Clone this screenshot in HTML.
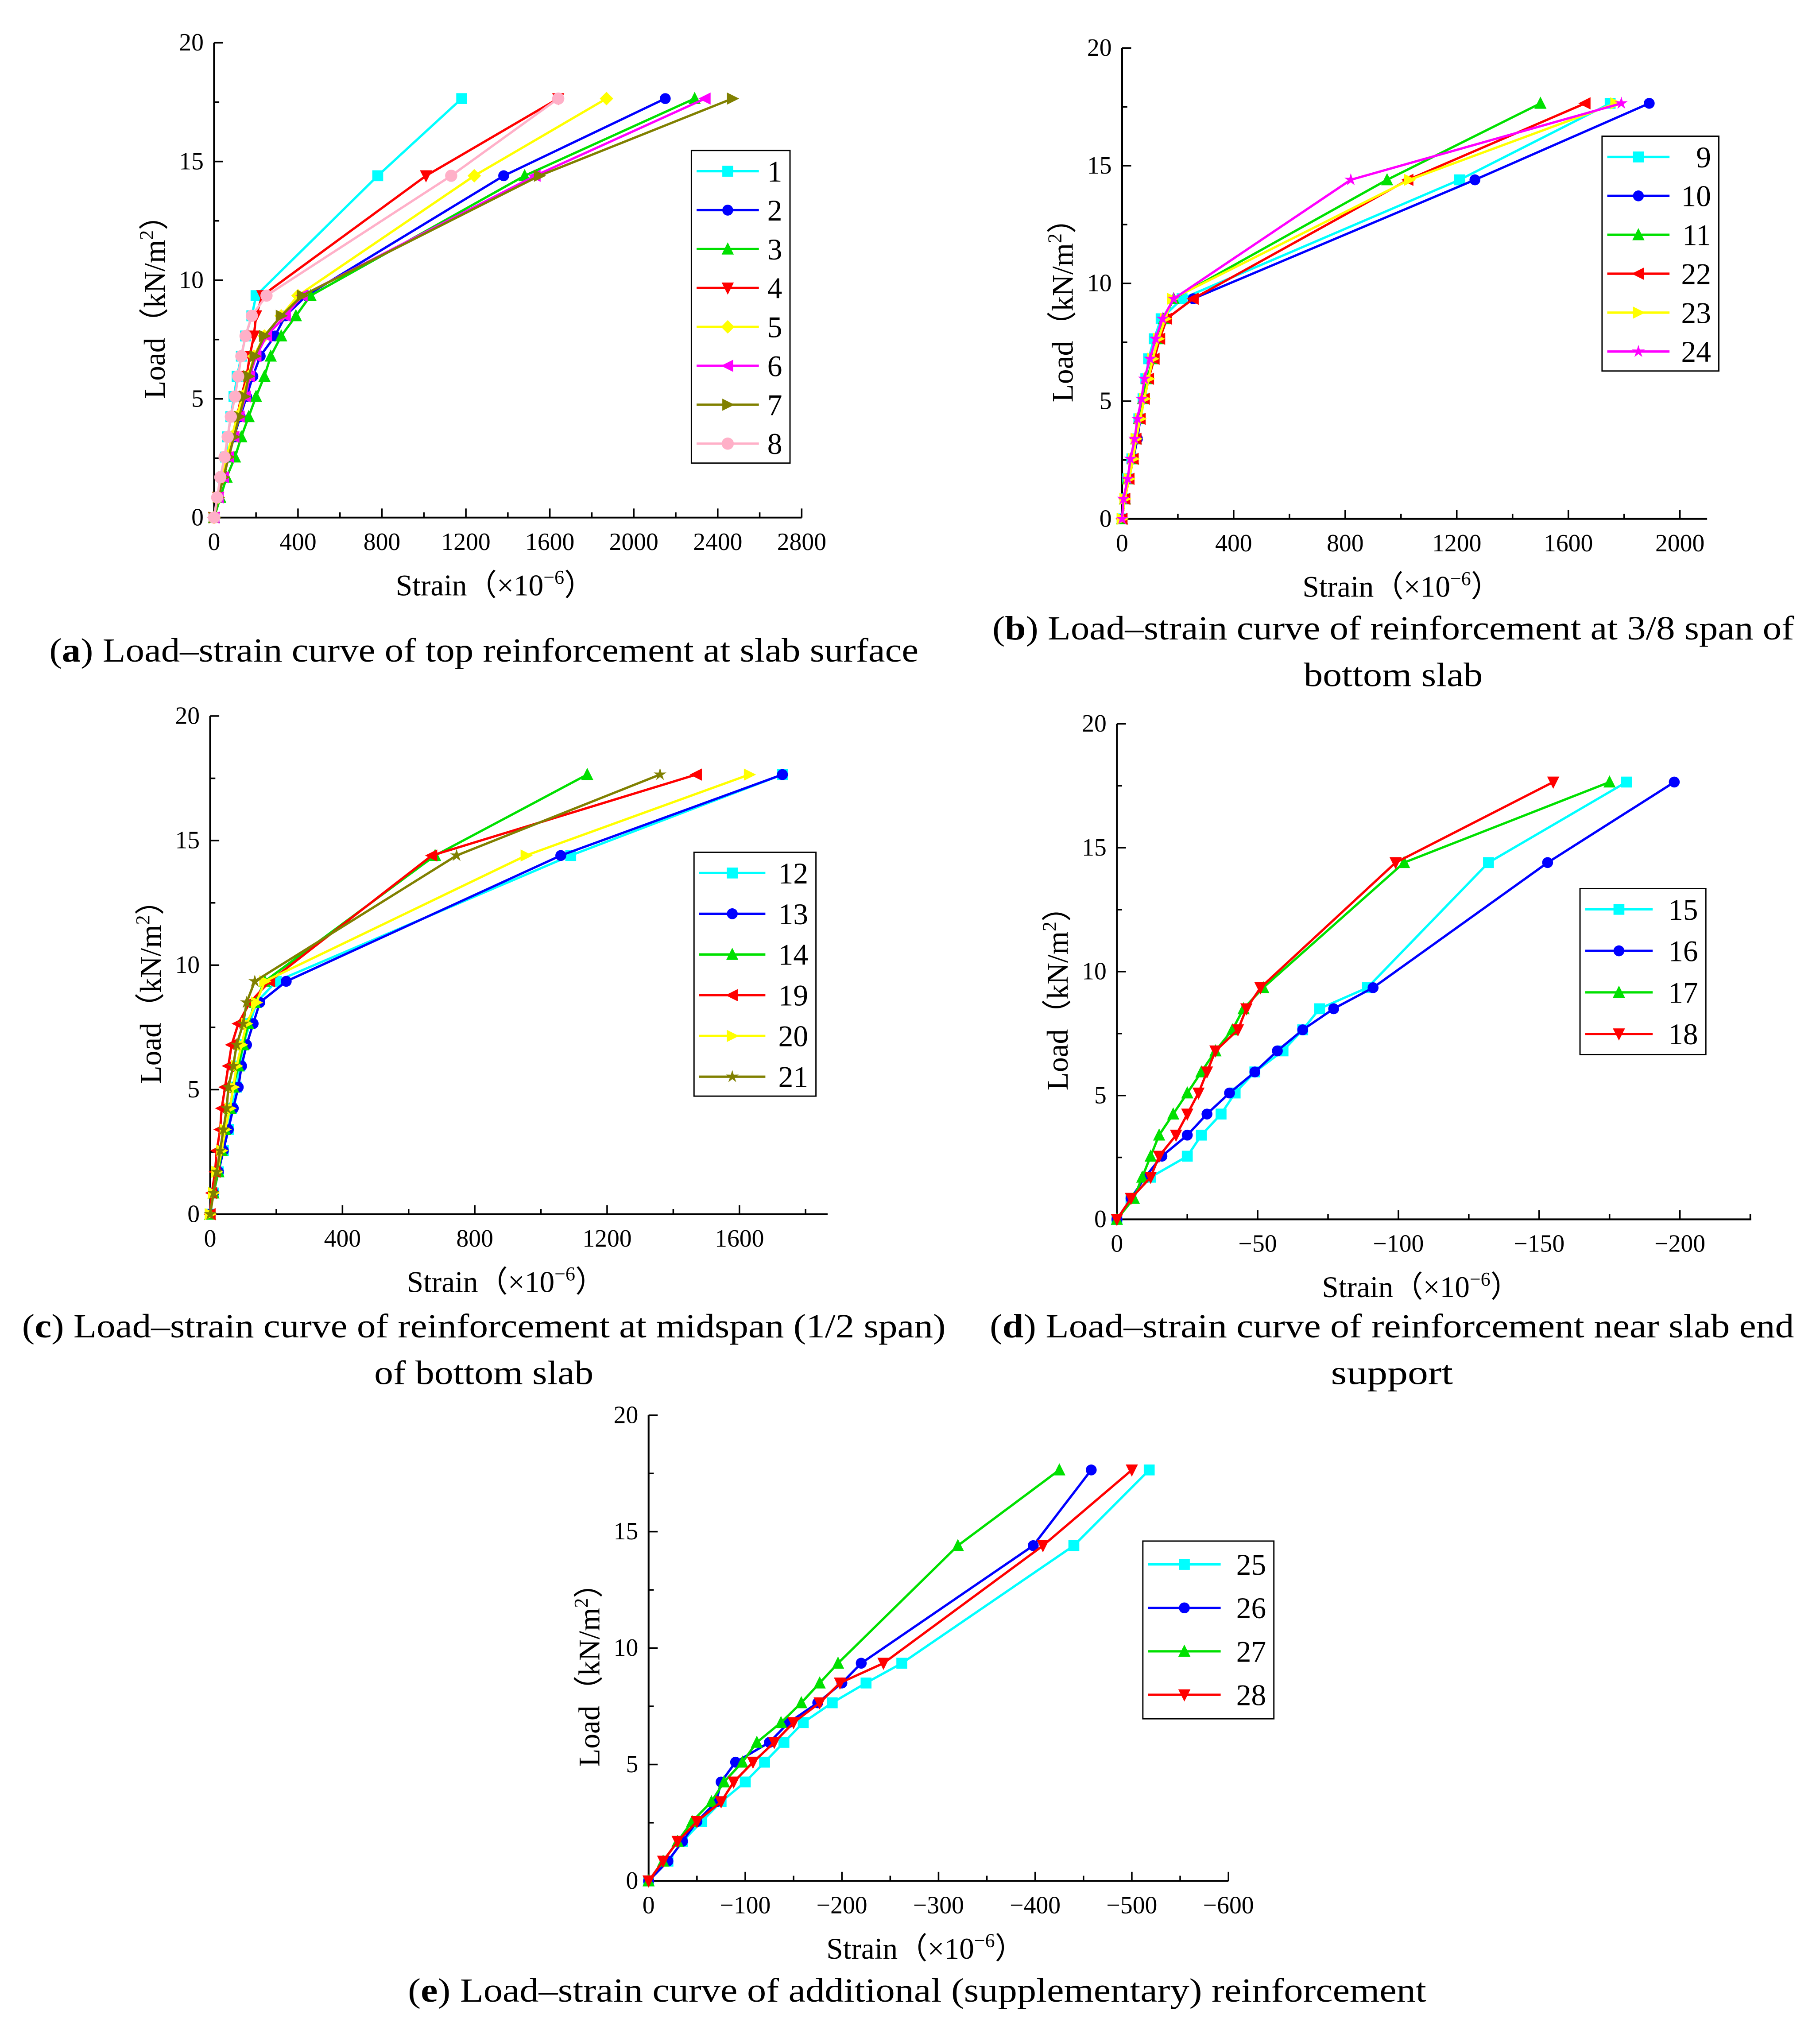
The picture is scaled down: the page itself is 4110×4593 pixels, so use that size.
<!DOCTYPE html>
<html><head><meta charset="utf-8"><style>
html,body{margin:0;padding:0;background:#fff;}
svg{display:block;}
text{font-family:"Liberation Serif",serif;fill:#000;}
</style></head><body>
<svg id="fig" width="4110" height="4593" viewBox="0 0 1403 1568" preserveAspectRatio="none" xmlns="http://www.w3.org/2000/svg"></svg>
<script>
const loads=[0,0.85,1.7,2.55,3.4,4.25,5.1,5.95,6.8,7.65,8.5,9.35,14.4,17.65];
// Panel (a)
const aNames=["1","2","3","4","5","6","7","8"];
const a1=[0,20,40,55,65,80,95,110,130,150,180,200,780,1180];
const a2=[0,20,45,70,95,125,155,185,220,290,340,440,1380,2150];
const a3=[0,30,60,100,130,165,200,240,270,320,390,460,1480,2290];
const a4=[0,20,45,65,85,110,130,155,170,190,200,230,1010,1640];
const a5=[0,20,40,60,85,110,135,165,190,240,320,400,1240,1870];
const a6=[0,20,45,70,95,120,150,170,200,250,340,420,1530,2340];
const a7=[0,20,45,70,95,120,145,165,195,240,320,420,1550,2470];
const a8=[0,15,30,50,65,80,100,115,130,150,180,250,1130,1640];
const aTicks=[0,400,800,1200,1600,2000,2400,2800];
// Panel (b)
const bNames=["9","10","11","22","23","24"];
const b9=[0,10,20,35,50,60,75,85,95,115,140,215,1210,1750];
const b10=[0,10,25,40,55,65,80,95,115,135,160,255,1265,1890];
const b11=[0,10,20,40,50,60,75,90,110,130,150,185,950,1500];
const b22=[0,10,25,40,50,65,80,95,115,135,160,255,1025,1660];
const b23=[0,10,25,40,50,65,80,95,110,130,155,180,1030,1770];
const b24=[0,5,20,30,45,55,70,80,100,120,145,185,820,1790];
const bTicks=[0,400,800,1200,1600,2000];
// Panel (c)
const cNames=["12","13","14","19","20","21"];
const c12=[0,10,25,40,55,65,80,90,100,120,140,200,1090,1730];
const c13=[0,10,25,40,55,70,85,95,110,130,150,230,1060,1730];
const c14=[0,10,25,35,45,60,70,85,100,115,135,165,680,1140];
const c19=[0,5,15,20,30,35,45,55,65,85,120,180,670,1470];
const c20=[0,10,20,35,45,60,70,80,95,110,140,165,955,1630];
const c21=[0,10,20,30,40,50,55,70,80,100,110,135,745,1360];
const cTicks=[0,400,800,1200,1600];
// Panel (d)
const dNames=["15","16","17","18"];
const d15=[0,-5,-12,-25,-30,-37,-42,-49,-59,-66,-72,-89,-132,-181];
const d16=[0,-5,-10,-16,-25,-32,-40,-49,-57,-66,-77,-91,-153,-198];
const d17=[0,-6,-9,-12,-15,-20,-25,-30,-35,-41,-45,-52,-102,-175];
const d18=[0,-5,-12,-15,-21,-25,-29,-32,-35,-43,-46,-51,-99,-155];
const dTicks=[0,-50,-100,-150,-200];
// Panel (e)
const eNames=["25","26","27","28"];
const e25=[0,-20,-35,-55,-75,-100,-120,-140,-160,-190,-225,-262,-440,-518];
const e26=[0,-20,-35,-50,-70,-75,-90,-125,-145,-175,-200,-220,-398,-458];
const e27=[0,-15,-30,-45,-65,-78,-97,-112,-137,-158,-177,-196,-320,-425];
const e28=[0,-15,-30,-50,-75,-88,-108,-130,-150,-177,-198,-243,-408,-500];
const eTicks=[0,-100,-200,-300,-400,-500,-600];
const yTicks=[0,5,10,15,20];

const NS="http://www.w3.org/2000/svg";
const svg=document.getElementById('fig');
function mk(tag,attrs,parent){const e=document.createElementNS(NS,tag);for(const k in attrs)e.setAttribute(k,attrs[k]);(parent||svg).appendChild(e);return e;}

function marker(g,type,x,y,col){
  const r=4.2;let e;
  if(type==='sq'){e=mk('rect',{x:x-r,y:y-r,width:2*r,height:2*r,fill:col},g);}
  else if(type==='ci'){e=mk('circle',{cx:x,cy:y,r:r,fill:col},g);}
  else if(type==='hex'){e=mk('circle',{cx:x,cy:y,r:r+0.5,fill:col},g);}
  else{let p;
    if(type==='tu')p=[[x,y-r-1],[x+r+0.5,y+r],[x-r-0.5,y+r]];
    else if(type==='td')p=[[x,y+r+1],[x+r+0.5,y-r],[x-r-0.5,y-r]];
    else if(type==='tl')p=[[x-r-1,y],[x+r,y-r-0.5],[x+r,y+r+0.5]];
    else if(type==='tr')p=[[x+r+1,y],[x-r,y-r-0.5],[x-r,y+r+0.5]];
    else if(type==='di')p=[[x,y-r-1],[x+r+1,y],[x,y+r+1],[x-r-1,y]];
    else if(type==='st'){p=[];for(let i=0;i<10;i++){const a=-Math.PI/2+i*Math.PI/5;const rr=i%2?r*0.45:r+1;p.push([x+rr*Math.cos(a),y+rr*Math.sin(a)]);}}
    e=mk('polygon',{points:p.map(q=>q.join(',')).join(' '),fill:col},g);}
  
  
}

function panel(cfg){
  const g=mk('g',{});
  
  
  const X=v=>cfg.ox+(cfg.sign*v)/cfg.xmax*(cfg.xEndTick-cfg.ox);
  const Y=v=>cfg.oy-v/20*(cfg.oy-cfg.yTop);
  const ax=mk('line',{x1:cfg.ox,y1:cfg.oy,x2:cfg.axEnd,y2:cfg.oy,stroke:'#000','stroke-width':1.4},g);
  
  const ay=mk('line',{x1:cfg.ox,y1:cfg.oy,x2:cfg.ox,y2:cfg.yTop,stroke:'#000','stroke-width':1.4},g);
  
  const step=cfg.ticks[1]-cfg.ticks[0];
  for(let i=0;i<cfg.ticks.length;i++){
    const v=cfg.ticks[i];const x=X(v);
    mk('line',{x1:x,y1:cfg.oy,x2:x,y2:cfg.oy-7,stroke:'#000','stroke-width':1.2},g);
    const t=mk('text',{x:x,y:cfg.oy+25,'font-size':19,'text-anchor':'middle'},g);
    t.textContent=v<0?'\u2212'+(-v):String(v);
    
    const mv=v+step/2;const mx=X(mv);
    if(mx<=cfg.axEnd+0.5)mk('line',{x1:mx,y1:cfg.oy,x2:mx,y2:cfg.oy-4,stroke:'#000','stroke-width':1.2},g);
  }
  for(const v of yTicks){const y=Y(v);
    mk('line',{x1:cfg.ox,y1:y,x2:cfg.ox+7,y2:y,stroke:'#000','stroke-width':1.2},g);
    if(v<20)mk('line',{x1:cfg.ox,y1:Y(v+2.5),x2:cfg.ox+4,y2:Y(v+2.5),stroke:'#000','stroke-width':1.2},g);
    const t=mk('text',{x:cfg.ox-8,y:y+6,'font-size':19,'text-anchor':'end'},g);
    t.textContent=v;
  }
  const xt=mk('text',{x:(cfg.ox+cfg.axEnd)/2-10,y:cfg.oy+60,'font-size':23,'text-anchor':'middle'},g);
  xt.innerHTML='Strain\uFF08\u00D710<tspan dy="-9" font-size="15">\u22126</tspan><tspan dy="9">\uFF09</tspan>';
  
  const yc=(cfg.oy+cfg.yTop)/2+15;const yx=cfg.ox-38;
  const yt=mk('text',{x:yx,y:yc,'font-size':23,'text-anchor':'middle',transform:`rotate(-90 ${yx} ${yc})`},g);
  yt.innerHTML='Load\uFF08kN/m<tspan dy="-9" font-size="15">2</tspan><tspan dy="9">\uFF09</tspan>';
  
  cfg.series.forEach((s,si)=>{
    const sg=mk('g',{},g);
    
    
    const pts=s.map((v,i)=>X(v).toFixed(1)+','+Y(loads[i]).toFixed(1)).join(' ');
    mk('polyline',{points:pts,fill:'none',stroke:cfg.colors[si],'stroke-width':1.8,'stroke-linejoin':'round'},sg);
    s.forEach((v,i)=>marker(sg,cfg.marks[si],X(v),Y(loads[i]),cfg.colors[si]));
  });
  const L=cfg.leg;
  const lg=mk('g',{},g);
  
  mk('rect',{x:L.x,y:L.y,width:L.w,height:L.h,fill:'#fff',stroke:'#000','stroke-width':1},lg);
  cfg.names.forEach((n,i)=>{
    const yy=L.y+L.first+i*L.dy;
    const eg=mk('g',{},lg);
    
    
    mk('line',{x1:L.x+4,y1:yy,x2:L.x+L.line,y2:yy,stroke:cfg.colors[i],'stroke-width':1.8},eg);
    marker(eg,cfg.marks[i],L.x+4+(L.line-4)/2,yy,cfg.colors[i]);
    const t=mk('text',{x:L.x+L.w-6,y:yy+8,'font-size':23,'text-anchor':'end'},eg);t.textContent=n;
  });
  cfg.caption.forEach((c,i)=>{
    const at={x:cfg.capX,y:cfg.capY+i*36,'font-size':26,'text-anchor':'middle'};
    if(cfg.capW[i]){at.textLength=cfg.capW[i];at.lengthAdjust='spacingAndGlyphs';}
    const t=mk('text',at,g);
    t.innerHTML=c;
  });
}

panel({id:'a',ox:165,oy:399,yTop:33,xEndTick:618,axEnd:618,xmax:2800,sign:1,ticks:aTicks,
  names:aNames,series:[a1,a2,a3,a4,a5,a6,a7,a8],
  colors:['#00ffff','#0000ff','#00e000','#ff0000','#ffff00','#ff00ff','#808000','#ffb0c8'],
  marks:['sq','ci','tu','td','di','tl','tr','hex'],
  leg:{x:533,y:116,w:76,h:241,first:16,dy:30,line:52},
  caption:['(<tspan font-weight="bold">a</tspan>) Load\u2013strain curve of top reinforcement at slab surface'],capW:[670],capX:373,capY:510});
panel({id:'b',ox:865,oy:400,yTop:37,xEndTick:1295,axEnd:1316,xmax:2000,sign:1,ticks:bTicks,
  names:bNames,series:[b9,b10,b11,b22,b23,b24],
  colors:['#00ffff','#0000ff','#00e000','#ff0000','#ffff00','#ff00ff'],
  marks:['sq','ci','tu','tl','tr','st'],
  leg:{x:1235,y:105,w:90,h:181,first:16,dy:30,line:52},
  caption:['(<tspan font-weight="bold">b</tspan>) Load\u2013strain curve of reinforcement at 3/8 span of','bottom slab'],capW:[618,138],capX:1074,capY:493});
panel({id:'c',ox:162,oy:936,yTop:552,xEndTick:570,axEnd:638,xmax:1600,sign:1,ticks:cTicks,
  names:cNames,series:[c12,c13,c14,c19,c20,c21],
  colors:['#00ffff','#0000ff','#00e000','#ff0000','#ffff00','#808000'],
  marks:['sq','ci','tu','tl','tr','st'],
  leg:{x:535,y:657,w:94,h:188,first:16,dy:31.4,line:55},
  caption:['(<tspan font-weight="bold">c</tspan>) Load\u2013strain curve of reinforcement at midspan (1/2 span)','of bottom slab'],capW:[712,169],capX:373,capY:1031});
panel({id:'d',ox:861,oy:940,yTop:558,xEndTick:1295,axEnd:1350,xmax:200,sign:-1,ticks:dTicks,
  names:dNames,series:[d15,d16,d17,d18],
  colors:['#00ffff','#0000ff','#00e000','#ff0000'],
  marks:['sq','ci','tu','td'],
  leg:{x:1218,y:685,w:97,h:128,first:16,dy:32,line:56},
  caption:['(<tspan font-weight="bold">d</tspan>) Load\u2013strain curve of reinforcement near slab end','support'],capW:[620,94],capX:1073,capY:1031});
panel({id:'e',ox:500,oy:1450,yTop:1091,xEndTick:947,axEnd:947,xmax:600,sign:-1,ticks:eTicks,
  names:eNames,series:[e25,e26,e27,e28],
  colors:['#00ffff','#0000ff','#00e000','#ff0000'],
  marks:['sq','ci','tu','td'],
  leg:{x:881,y:1188,w:101,h:137,first:18,dy:33.5,line:60},
  caption:['(<tspan font-weight="bold">e</tspan>) Load\u2013strain curve of additional (supplementary) reinforcement'],capW:[785],capX:707,capY:1543});
</script>
</body></html>
